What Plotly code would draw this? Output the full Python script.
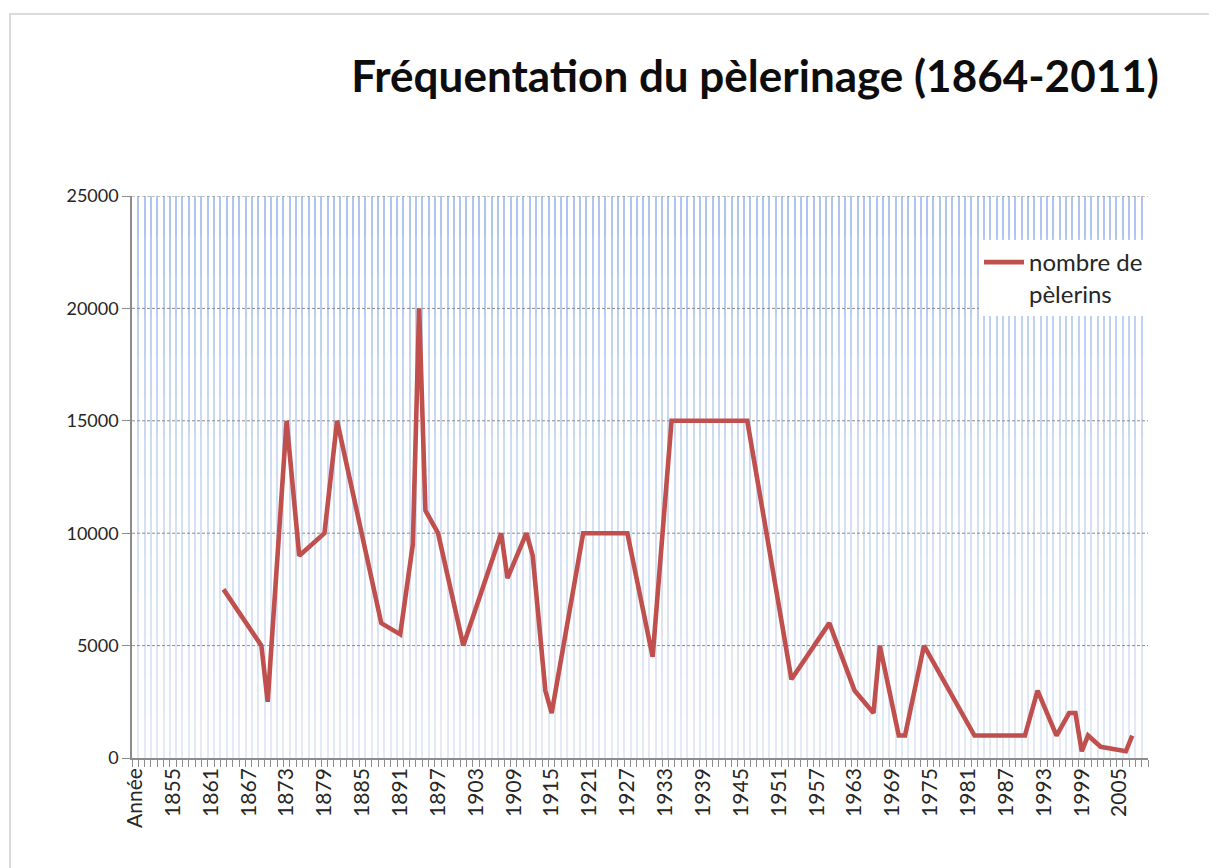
import plotly.graph_objects as go

# ---- data ----
categories = ["Année"] + [str(y) for y in range(1850, 2010)]
tick_labels = ["Année"] + [str(y) for y in range(1855, 2006, 6)]
years = [1863, 1869, 1870, 1873, 1875, 1879, 1881, 1888, 1891, 1893, 1894, 1895,
         1897, 1901, 1907, 1908, 1911, 1912, 1914, 1915, 1920, 1927, 1931, 1934,
         1946, 1953, 1959, 1963, 1966, 1967, 1970, 1971, 1974, 1982, 1990, 1992,
         1995, 1997, 1998, 1999, 2000, 2002, 2006, 2007]
pelerins = [7500, 5000, 2500, 15000, 9000, 10000, 15000, 6000, 5500, 9500, 20000, 11000,
            10000, 5000, 10000, 8000, 10000, 9000, 3000, 2000, 10000, 10000, 4500, 15000,
            15000, 3500, 6000, 3000, 2000, 5000, 1000, 1000, 5000, 1000, 1000, 3000,
            1000, 2000, 2000, 300, 1000, 500, 300, 1000]
y_ticks = [0, 5000, 10000, 15000, 20000, 25000]
y_tick_text = [str(v) for v in y_ticks]

x_idx = [categories.index(str(y)) for y in years]
tick_idx = [categories.index(t) for t in tick_labels]

FONT = "Lato, 'Open Sans', sans-serif"
W, H = 1217, 868
ML, MR, MT, MB = 124, 77, 188, 118
PW, PH = W - ML - MR, H - MT - MB
X0, X1 = -0.5, len(categories) - 0.5
Y0, Y1 = y_ticks[0], y_ticks[-1]

fig = go.Figure()
fig.add_trace(go.Scatter(
    x=x_idx, y=pelerins, mode="lines", name="nombre de<br>pèlerins",
    line=dict(color="#c0504d", width=4.6),
    customdata=years, hovertemplate="%{customdata}: %{y}<extra></extra>",
))

shapes = []
# gradient fade of the vertical stripes toward the bottom
n_fade = 14
for i in range(n_fade):
    shapes.append(dict(type="rect", xref="x", yref="y",
                       x0=X0, x1=X1, y0=Y0, y1=Y0 + (Y1 - Y0) * (i + 1) / n_fade,
                       fillcolor="rgba(255,255,255,0.085)", line=dict(width=0),
                       layer="between"))
# dashed horizontal gridlines
for v in y_ticks[1:]:
    shapes.append(dict(type="line", xref="x", yref="y", x0=X0, x1=X1, y0=v, y1=v,
                       line=dict(color="#8a8a8a", width=1, dash="3px,2px"),
                       layer="between"))
# outer chart frame
shapes.append(dict(type="rect", xref="paper", yref="paper",
                   x0=(2 - ML) / PW, x1=(W + 20 - ML) / PW,
                   y0=-(MB + 20) / PH, y1=(PH + MT - 6) / PH,
                   line=dict(color="#d0d0d0", width=1.5), fillcolor="rgba(0,0,0,0)",
                   layer="below"))

fig.update_layout(
    width=W, height=H,
    margin=dict(l=ML, r=MR, t=MT, b=MB),
    paper_bgcolor="white", plot_bgcolor="white",
    font=dict(family=FONT, size=19, color="#262626"),
    title=dict(text="<b>Fréquentation du pèlerinage (1864-2011)</b>",
               x=747 / W, xanchor="center", xref="container",
               y=1 - 69 / H, yanchor="middle", yref="container",
               font=dict(family=FONT, size=44, color="#0d0d0d")),
    showlegend=True,
    legend=dict(x=1, xanchor="right", y=(PH + MT - 232) / PH, yanchor="top",
                bgcolor="white", borderwidth=0, font=dict(size=24, color="#262626"),
                itemwidth=40, entrywidth=185, valign="top"),
    shapes=shapes,
    hovermode="closest",
)
fig.update_xaxes(
    range=[X0, X1],
    tickmode="array", tickvals=tick_idx, ticktext=tick_labels,
    tickangle=-90, ticks="", showgrid=False, zeroline=False,
    showline=True, linecolor="#8c8c8c", linewidth=1.5,
    tickfont=dict(family=FONT, size=21, color="#262626"),
    minor=dict(tick0=0.5, dtick=1, ticks="outside", ticklen=7, tickcolor="#8c8c8c",
               tickwidth=1, showgrid=True, gridcolor="#a6c0ee", gridwidth=1.6),
)
fig.update_yaxes(
    range=[Y0, Y1], tickmode="array", tickvals=y_ticks, ticktext=y_tick_text,
    showgrid=False, zeroline=False,
    showline=True, linecolor="#8c8c8c", linewidth=1.5,
    ticks="outside", ticklen=8, tickcolor="#8c8c8c",
    tickfont=dict(family=FONT, size=18, color="#262626"),
)

fig.write_html("out.html")
